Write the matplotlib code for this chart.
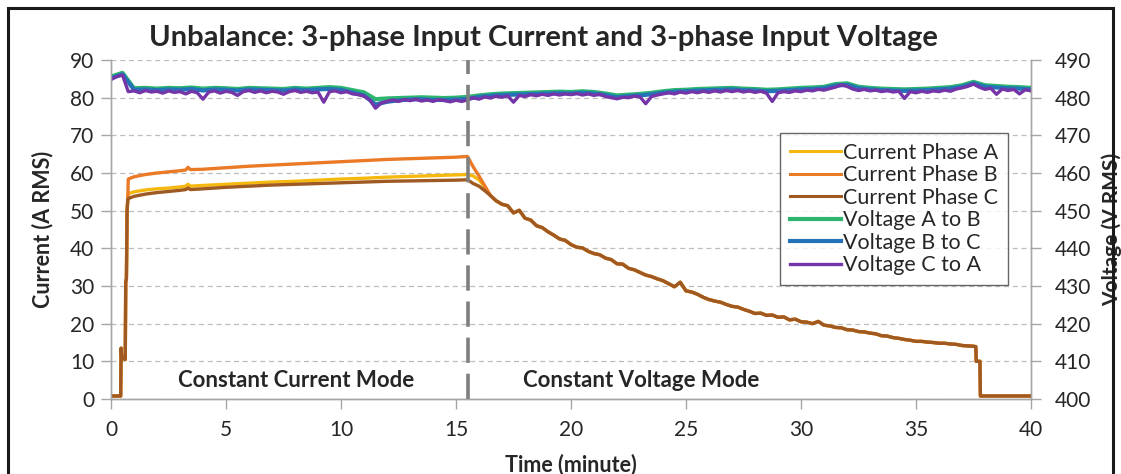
import numpy as np
import matplotlib
matplotlib.use("Agg")
import matplotlib.pyplot as plt
from matplotlib.patches import Rectangle

# ---------------- data ----------------
title = "Unbalance: 3-phase Input Current and 3-phase Input Voltage"
x_label = "Time (minute)"
y_left_label = "Current (A RMS)"
y_right_label = "Voltage (V RMS)"
x_ticks = [0, 5, 10, 15, 20, 25, 30, 35, 40]
y_left_ticks = [0, 10, 20, 30, 40, 50, 60, 70, 80, 90]
y_right_ticks = [400, 410, 420, 430, 440, 450, 460, 470, 480, 490]
mode_change_time = 15.5
mode_labels = ["Constant Current Mode", "Constant Voltage Mode"]

# current time axis (minutes)
t_cur_start = [0, 0.42, 0.44, 0.47, 0.5, 0.62, 0.64, 0.67, 0.7, 0.73]
t_cur_cc = [0.75, 1.0, 1.5, 2, 2.5, 3, 3.25, 3.35, 3.45, 4, 5, 6, 7, 8, 9,
            10, 11, 12, 13, 14, 15, 15.5]
t_cur_tr = [15.75, 16.0, 16.25]
t_cur_cv = [16.5 + 0.25 * i for i in range(85)]
t_cur_end = [37.6, 37.62, 37.78, 37.8, 40]

cur_start = [0.8, 0.8, 13.5, 10.5, 11.0, 10.5, 31.0, 32.0, 50.0, 53.0]
cur_a_cc = [54.5, 55.0, 55.5, 55.8, 56.0, 56.3, 56.5, 57.0, 56.5, 56.7, 57.0,
            57.3, 57.6, 57.8, 58.1, 58.4, 58.6, 58.9, 59.1, 59.3, 59.5, 59.6]
cur_b_cc = [58.4, 59.0, 59.6, 60.0, 60.3, 60.6, 60.8, 61.5, 60.9, 61.0, 61.4,
            61.8, 62.1, 62.4, 62.7, 63.0, 63.3, 63.6, 63.8, 64.0, 64.2, 64.4]
cur_c_cc = [53.2, 53.8, 54.4, 54.8, 55.1, 55.4, 55.6, 56.0, 55.6, 55.8, 56.2,
            56.5, 56.8, 57.0, 57.2, 57.4, 57.6, 57.8, 57.9, 58.0, 58.1, 58.2]
cur_a_tr = [59.2, 58.2, 56.3]
cur_b_tr = [61.6, 59.2, 56.6]
cur_c_tr = [57.2, 56.5, 55.3]
cur_cv = [54.0, 52.6, 51.7, 51.3, 49.4, 50.1, 48.0, 47.5, 46.0, 45.5,
          44.4, 43.5, 42.5, 42.1, 41.0, 40.3, 40.1, 39.2, 38.6, 38.3,
          37.4, 37.0, 35.9, 35.8, 34.7, 34.3, 33.6, 32.9, 32.5, 31.9,
          31.4, 30.6, 29.8, 31.0, 28.7, 28.4, 27.8, 27.0, 26.4, 26.0,
          25.7, 25.1, 24.6, 24.4, 23.8, 23.3, 22.7, 22.8, 22.2, 22.3,
          21.7, 21.8, 21.0, 21.2, 20.5, 20.4, 20.0, 20.6, 19.6, 19.4,
          19.0, 18.9, 18.4, 18.3, 17.9, 17.8, 17.5, 17.3, 16.8, 16.7,
          16.3, 16.1, 15.8, 15.6, 15.3, 15.3, 15.1, 15.0, 14.8, 14.8,
          14.6, 14.5, 14.2, 14.1, 14.0]
cur_end = [13.9, 10.0, 10.0, 0.8, 0.8]

# voltage time axes (minutes)
t_volt_fine = [0.25 * i for i in range(161)]
t_volt = [0.5 * i for i in range(81)]

volt_ca = [484.8, 485.6, 486.0, 481.6, 481.8, 481.3, 481.9, 481.5, 481.7, 481.2,
           481.8, 481.4, 481.6, 481.0, 481.7, 481.3, 479.6, 481.5, 481.8, 481.2,
           481.7, 481.4, 480.6, 481.6, 481.9, 481.4, 481.8, 481.3, 481.7, 481.5,
           480.9, 481.6, 481.9, 481.4, 481.7, 481.3, 481.5, 478.8, 481.6, 481.8,
           481.3, 481.6, 481.0, 480.8, 480.4, 479.4, 477.2, 478.6, 479.0, 479.4,
           479.0, 479.5, 479.2, 479.6, 479.1, 479.4, 479.0, 479.5, 479.2, 478.9,
           479.3, 479.0, 479.4, 480.0, 479.6, 480.2, 479.9, 480.4, 480.1, 480.5,
           478.8, 480.6, 480.3, 480.8, 480.5, 480.9, 480.6, 481.0, 480.7, 481.0,
           480.8, 481.1, 480.7, 481.0, 480.6, 480.9, 480.3, 480.0, 479.7, 480.1,
           480.0, 480.4, 480.2, 478.4, 480.3, 480.7, 481.0, 481.3, 481.0, 481.5,
           481.2, 481.6, 481.3, 481.7, 481.4, 481.8, 481.5, 481.9, 481.6, 481.9,
           481.5, 481.8, 481.4, 481.7, 481.2, 479.0, 481.3, 481.6, 481.4, 481.8,
           481.6, 482.0, 481.8, 482.2, 482.0, 482.4, 482.8, 483.4, 483.0, 482.3,
           481.9, 482.2, 481.8, 482.0, 481.6, 481.9, 481.5, 481.7, 479.8, 481.6,
           481.3, 481.7, 481.4, 481.8, 481.6, 482.0, 481.7, 482.3, 482.6, 483.0,
           483.6, 482.8, 482.2, 482.5, 480.9, 482.3, 481.9, 482.2, 481.0, 482.1,
           481.8]
volt_ab = [485.6, 486.6, 482.5, 482.6, 482.4, 482.6, 482.5, 482.7, 482.4, 482.6,
           482.5, 482.3, 482.6, 482.5, 482.4, 482.3, 482.6, 482.4, 482.6, 482.8,
           482.6, 482.0, 481.4, 479.6, 479.8, 479.9, 480.0, 480.1, 480.0, 479.9,
           480.0, 480.2, 480.6, 480.9, 481.1, 481.2, 481.3, 481.4, 481.5, 481.6,
           481.5, 481.7, 481.5, 481.1, 480.6, 480.8, 481.0, 481.3, 481.7, 482.0,
           482.1, 482.3, 482.4, 482.5, 482.6, 482.4, 482.3, 482.1, 482.2, 482.4,
           482.6, 482.7, 482.9, 483.6, 483.8, 482.9, 482.6, 482.4, 482.3, 482.2,
           482.3, 482.4, 482.6, 482.8, 483.3, 484.2, 483.3, 483.1, 482.9, 482.8,
           482.6]
volt_bc = [485.2, 486.2, 482.1, 482.2, 482.0, 482.2, 482.1, 482.3, 481.9, 482.2,
           482.1, 481.9, 482.2, 482.1, 482.0, 481.9, 482.2, 482.0, 482.2, 482.3,
           482.1, 481.4, 480.6, 478.2, 478.9, 479.3, 479.5, 479.6, 479.4, 479.4,
           479.5, 479.7, 480.2, 480.5, 480.7, 480.8, 480.9, 481.0, 481.1, 481.2,
           481.1, 481.3, 481.1, 480.7, 480.1, 480.4, 480.6, 480.9, 481.3, 481.6,
           481.7, 481.9, 482.0, 482.1, 482.2, 482.0, 481.9, 481.7, 481.8, 482.0,
           482.2, 482.3, 482.5, 483.2, 483.4, 482.5, 482.2, 482.0, 481.9, 481.8,
           481.9, 482.0, 482.2, 482.4, 482.9, 483.8, 482.9, 482.7, 482.5, 482.4,
           482.2]

series_names = ["Current Phase A", "Current Phase B", "Current Phase C",
                "Voltage A to B", "Voltage B to C", "Voltage C to A"]
colors = ["#F5B80F", "#EB7A26", "#9E5A22", "#2DB56E", "#2472B8", "#7335A8"]

# ---------------- build series ----------------
t_cur = t_cur_start + t_cur_cc + t_cur_tr + t_cur_cv + t_cur_end
cur_a = cur_start + cur_a_cc + cur_a_tr + cur_cv + cur_end
cur_b = cur_start + cur_b_cc + cur_b_tr + cur_cv + cur_end
cur_c = cur_start + cur_c_cc + cur_c_tr + cur_cv + cur_end

plt.rcParams['font.family'] = ['Lato', 'DejaVu Sans']
text_col = "#262626"
grid_col = "#BDBDBD"
spine_col = "#A6A6A6"

fig = plt.figure(figsize=(11.21, 4.74), dpi=100)
ax = fig.add_axes([111 / 1121, 1 - 399 / 474, 920 / 1121, 339 / 474])
ax2 = ax.twinx()

ax.set_xlim(0, 40)
ax.set_ylim(0, 90)
ax2.set_ylim(400, 490)
ax.set_xticks(x_ticks)
ax.set_yticks(y_left_ticks)
ax2.set_yticks(y_right_ticks)

ax.grid(axis='y', color=grid_col, linestyle=(0, (4, 3)), linewidth=0.9)
ax.set_axisbelow(True)
for a in (ax, ax2):
    a.spines['top'].set_visible(False)
    for s in ('left', 'right', 'bottom'):
        a.spines[s].set_color(spine_col)
        a.spines[s].set_linewidth(1.0)
ax.tick_params(axis='both', colors=spine_col, labelcolor=text_col,
               labelsize=15, length=7, width=1.0, direction='out', pad=5)
ax2.tick_params(axis='y', colors=spine_col, labelcolor=text_col,
                labelsize=15, length=7, width=1.0, direction='out', pad=10)
ax.tick_params(axis='x', pad=8)

# voltage lines
lv1, = ax2.plot(t_volt, volt_ab, color=colors[3], lw=3.0, label=series_names[3])
lv2, = ax2.plot(t_volt, volt_bc, color=colors[4], lw=3.0, label=series_names[4])
lv3, = ax2.plot(t_volt_fine, volt_ca, color=colors[5], lw=2.4, label=series_names[5])

# current lines
la, = ax2.plot([], [], color=colors[0], lw=2.2, label=series_names[0])
lb, = ax2.plot([], [], color=colors[1], lw=2.2, label=series_names[1])
lc, = ax2.plot([], [], color=colors[2], lw=2.2, label=series_names[2])
ax2.plot(np.array(t_cur), np.array(cur_a) + 400, color=colors[0], lw=2.4)
ax2.plot(np.array(t_cur), np.array(cur_b) + 400, color=colors[1], lw=2.4)
ax2.plot(np.array(t_cur), np.array(cur_c) + 400, color=colors[2], lw=2.4)

ax2.axvline(mode_change_time, color="#7F7F7F", lw=2.6, linestyle=(0, (7, 3)))

ax.text(8.05, 5.0, mode_labels[0], ha='center', va='center', fontsize=16,
        fontweight='bold', color=text_col)
ax.text(23.05, 5.0, mode_labels[1], ha='center', va='center', fontsize=16,
        fontweight='bold', color=text_col)

ax.set_xlabel(x_label, fontsize=15.5, fontweight='bold', color=text_col, labelpad=10)
ax.set_ylabel(y_left_label, fontsize=15.5, fontweight='bold', color=text_col, labelpad=12)
ax2.set_ylabel(y_right_label, fontsize=15, fontweight='bold', color=text_col)
# keep the right label inside the figure frame
ax2.yaxis.set_label_coords((1102 - 111) / 920, 0.5)

fig.text(0.485, 1 - 38 / 474, title, ha='center', va='center', fontsize=21,
         fontweight='bold', color=text_col)

leg = ax2.legend(handles=[la, lb, lc, lv1, lv2, lv3], loc='upper left',
                 bbox_to_anchor=(0.727, 0.785), fontsize=15.5, frameon=True,
                 fancybox=False, edgecolor='#404040', handlelength=2.4,
                 handletextpad=0.1, labelspacing=0.12, borderpad=0.45,
                 borderaxespad=0)
leg.get_frame().set_linewidth(1.0)
for txt in leg.get_texts():
    txt.set_color(text_col)

fig.add_artist(Rectangle((8 / 1121, -0.01), 1105 / 1121, 1 - 8 / 474 + 0.01,
                         transform=fig.transFigure, fill=False,
                         edgecolor='#1A1A1A', linewidth=2.2))

fig.savefig("out.png", dpi=100)
